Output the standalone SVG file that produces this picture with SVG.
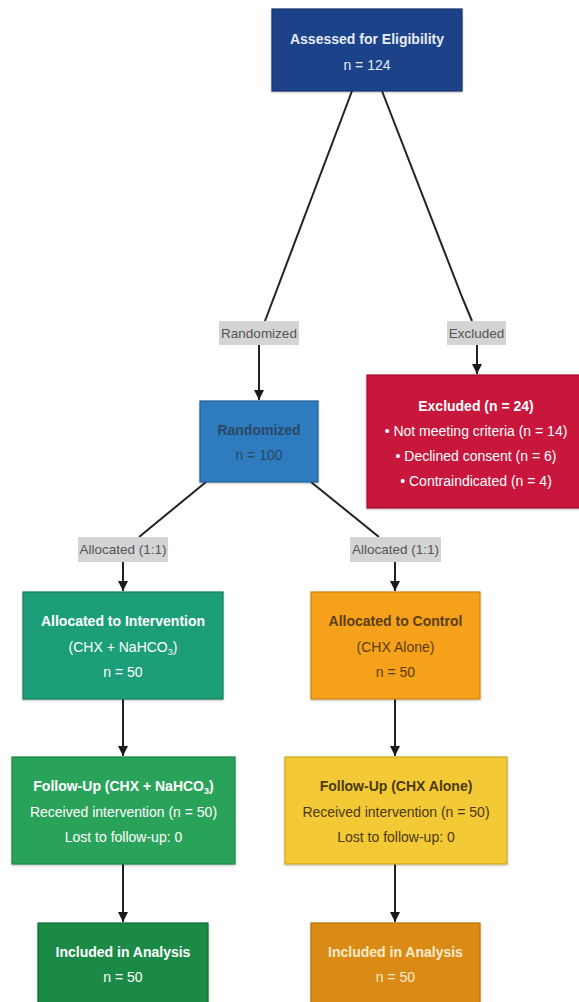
<svg xmlns="http://www.w3.org/2000/svg" width="579" height="1002" viewBox="0 0 579 1002">
<defs>
<marker id="arr" markerUnits="userSpaceOnUse" markerWidth="11" markerHeight="11" refX="10" refY="5" orient="auto">
<path d="M0,0 L10,5 L0,10 z" fill="#1a1a1a"/>
</marker>
<filter id="sh" x="-10%" y="-10%" width="120%" height="130%">
<feDropShadow dx="0" dy="1" stdDeviation="1.2" flood-color="#000" flood-opacity="0.25"/>
</filter>
</defs>
<style>
text{font-family:"Liberation Sans",Arial,sans-serif;font-size:14px;text-anchor:middle}
.b{font-weight:bold}
.box{stroke-width:1.2;filter:url(#sh)}
.lab{fill:#d4d4d4}
.labt{fill:#555;font-size:13.5px}
.c{fill:none;stroke:#222;stroke-width:2}
</style>
<rect width="579" height="1002" fill="#fff"/>
<g id="connectors">
<polyline class="c" points="352,91 265,321"/>
<polyline class="c" points="382,91 462,297 472,321"/>
<line class="c" x1="259" y1="345" x2="259" y2="400" marker-end="url(#arr)"/>
<line class="c" x1="477" y1="345" x2="477" y2="374" marker-end="url(#arr)"/>
<line class="c" x1="206" y1="482" x2="139" y2="537"/>
<line class="c" x1="311" y1="482" x2="379" y2="537"/>
<line class="c" x1="123" y1="562" x2="123" y2="591" marker-end="url(#arr)"/>
<line class="c" x1="395" y1="562" x2="395" y2="591" marker-end="url(#arr)"/>
<line class="c" x1="123" y1="699" x2="123" y2="756" marker-end="url(#arr)"/>
<line class="c" x1="395" y1="699" x2="395" y2="756" marker-end="url(#arr)"/>
<line class="c" x1="123" y1="864" x2="123" y2="922" marker-end="url(#arr)"/>
<line class="c" x1="395" y1="864" x2="395" y2="922" marker-end="url(#arr)"/>
</g>
<g id="label-randomized">
<rect class="lab" x="219" y="321" width="80" height="24"/>
<text class="labt" x="259" y="338">Randomized</text>
</g>
<g id="label-excluded">
<rect class="lab" x="447" y="321" width="59" height="24"/>
<text class="labt" x="476.5" y="338">Excluded</text>
</g>
<g id="label-alloc-left">
<rect class="lab" x="78" y="537" width="90" height="25"/>
<text class="labt" x="123" y="554">Allocated (1:1)</text>
</g>
<g id="label-alloc-right">
<rect class="lab" x="350" y="537" width="91" height="25"/>
<text class="labt" x="395.5" y="554">Allocated (1:1)</text>
</g>
<g id="assessed">
<rect class="box" x="272" y="9" width="190" height="82" fill="#1b4389" stroke="#15356c"/>
<text class="b" x="367" y="44" fill="#e6ecf6">Assessed for Eligibility</text>
<text x="367" y="70" fill="#e6ecf6">n = 124</text>
</g>
<g id="randomized">
<rect class="box" x="200" y="401" width="118" height="81" fill="#2e7bbf" stroke="#23609a"/>
<text class="b" x="259" y="435" fill="#2b4766">Randomized</text>
<text x="259" y="460" fill="#2b4766">n = 100</text>
</g>
<g id="excluded">
<rect class="box" x="367" y="375" width="216" height="133" fill="#c8143c" stroke="#a30f30"/>
<text class="b" x="476" y="411" fill="#fff">Excluded (n = 24)</text>
<text x="476" y="436" fill="#fff">• Not meeting criteria (n = 14)</text>
<text x="476" y="461" fill="#fff">• Declined consent (n = 6)</text>
<text x="476" y="486" fill="#fff">• Contraindicated (n = 4)</text>
</g>
<g id="alloc-intervention">
<rect class="box" x="23" y="592" width="200" height="107" fill="#1f9e78" stroke="#187e60"/>
<text class="b" x="123" y="626" fill="#fff">Allocated to Intervention</text>
<text x="123" y="652" fill="#fff">(CHX + NaHCO<tspan font-size="9" dy="3">3</tspan><tspan dy="-3">)</tspan></text>
<text x="123" y="677" fill="#fff">n = 50</text>
</g>
<g id="alloc-control">
<rect class="box" x="311" y="592" width="169" height="107" fill="#f5a11c" stroke="#cf8510"/>
<text class="b" x="395.5" y="626" fill="#5c3d0c">Allocated to Control</text>
<text x="395.5" y="652" fill="#5c3d0c">(CHX Alone)</text>
<text x="395.5" y="677" fill="#5c3d0c">n = 50</text>
</g>
<g id="followup-intervention">
<rect class="box" x="12" y="757" width="223" height="107" fill="#2aa35a" stroke="#1f8346"/>
<text class="b" x="123.5" y="791" fill="#fff">Follow-Up (CHX + NaHCO<tspan font-size="9" dy="3">3</tspan><tspan dy="-3">)</tspan></text>
<text x="123.5" y="817" fill="#fff">Received intervention (n = 50)</text>
<text x="123.5" y="842" fill="#fff">Lost to follow-up: 0</text>
</g>
<g id="followup-control">
<rect class="box" x="285" y="757" width="222" height="107" fill="#f3c935" stroke="#d1a820"/>
<text class="b" x="396" y="791" fill="#4a3a10">Follow-Up (CHX Alone)</text>
<text x="396" y="817" fill="#4a3a10">Received intervention (n = 50)</text>
<text x="396" y="842" fill="#4a3a10">Lost to follow-up: 0</text>
</g>
<g id="included-intervention">
<rect class="box" x="38" y="923" width="170" height="84" fill="#1f8a47" stroke="#176c37"/>
<text class="b" x="123" y="957" fill="#fff">Included in Analysis</text>
<text x="123" y="982" fill="#fff">n = 50</text>
</g>
<g id="included-control">
<rect class="box" x="311" y="923" width="169" height="84" fill="#d98b12" stroke="#b8730a"/>
<text class="b" x="395.5" y="957" fill="#fbeacd">Included in Analysis</text>
<text x="395.5" y="982" fill="#fbeacd">n = 50</text>
</g>
</svg>
